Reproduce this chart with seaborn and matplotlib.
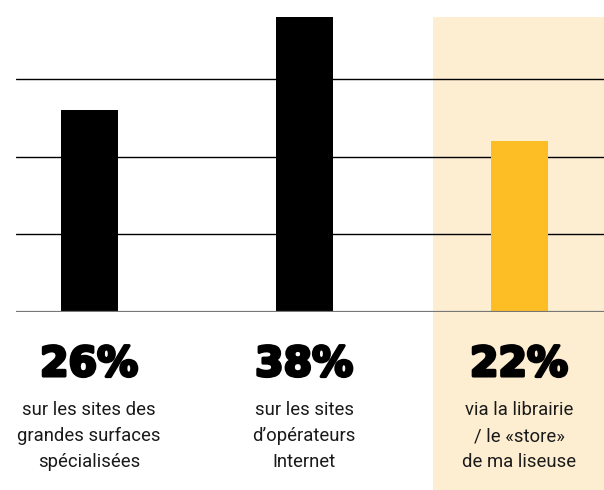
import matplotlib
matplotlib.use("Agg")
import matplotlib.pyplot as plt
import matplotlib.transforms as mtrans
import matplotlib.patheffects as pe
from matplotlib.patches import Rectangle
import seaborn as sns
import pandas as pd

categories = ["grandes surfaces", "opérateurs Internet", "liseuse"]
values = [26, 38, 22]
pct_labels = ["26%", "38%", "22%"]
desc_labels = [
    "sur les sites des\ngrandes surfaces\nspécialisées",
    "sur les sites\nd’opérateurs\nInternet",
    "via la librairie\n/ le «store»\nde ma liseuse",
]
bar_colors = ["#000000", "#000000", "#FDBD24"]
grid_values = [10, 20, 30]

sns.set_theme(style="white")
plt.rcParams["font.family"] = ["Roboto", "DejaVu Sans"]

W, H = 604, 490
fig = plt.figure(figsize=(W / 100, H / 100), dpi=100)
fig.patch.set_facecolor("white")

ax = fig.add_axes([16 / W, (H - 312) / H, 1 - 16 / W, (312 - 17) / H])
ax.set_facecolor("none")

# highlight band behind third column
ax.add_patch(Rectangle((433 / W, 0), 1 - 433 / W, (H - 17) / H,
                       transform=fig.transFigure, facecolor="#FDEED1",
                       edgecolor="none", zorder=0, clip_on=False))

df = pd.DataFrame({"cat": categories, "val": values})
sns.barplot(data=df, x="cat", y="val", hue="cat", palette=bar_colors,
            width=0.265, legend=False, ax=ax, saturation=1, zorder=3,
            edgecolor="none", linewidth=0)

ax.set_xlim(-0.34, 2.395)
ax.set_ylim(0, 38)
for g in grid_values:
    ax.axhline(g, color="#000000", lw=1.0, zorder=1)
ax.axhline(0, color="#777777", lw=1.6, zorder=4)

for s in ax.spines.values():
    s.set_visible(False)
ax.set_xticks([])
ax.set_yticks([])
ax.set_xlabel("")
ax.set_ylabel("")

trans = mtrans.blended_transform_factory(ax.transData, fig.transFigure)
for i, (p, d) in enumerate(zip(pct_labels, desc_labels)):
    ax.text(i, (H - 365) / H, p, transform=trans, ha="center", va="center",
            fontsize=29.5, fontweight="bold", family=["DejaVu Sans"],
            color="#000000", clip_on=False,
            path_effects=[pe.withStroke(linewidth=2.2, foreground="#000000")])
    ax.text(i, (H - 436) / H, d, transform=trans, ha="center", va="center",
            fontsize=13.3, color="#1a1a1a", linespacing=1.6, clip_on=False)

fig.savefig("out.png", dpi=100, facecolor=fig.get_facecolor())
